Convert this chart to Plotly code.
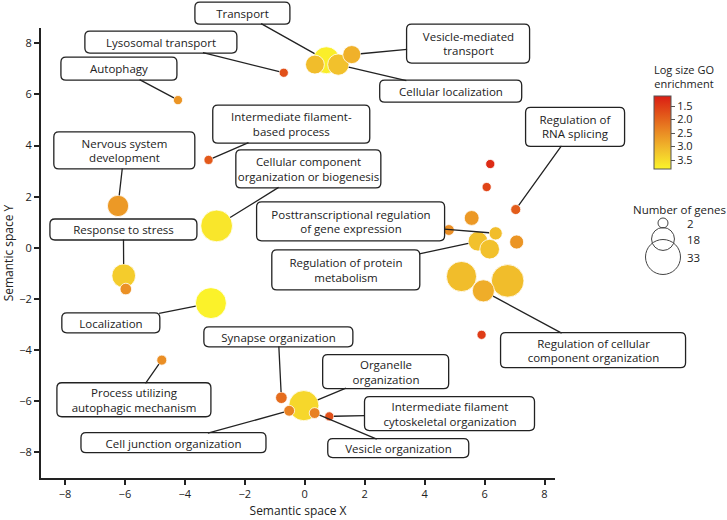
import plotly.graph_objects as go

# ---------------- data ----------------
terms = [
    "Transport", "", "Cellular localization", "Vesicle-mediated transport",
    "Lysosomal transport", "Autophagy", "Intermediate filament-based process",
    "Nervous system development", "Cellular component organization or biogenesis",
    "Response to stress", "", "Localization", "Process utilizing autophagic mechanism",
    "Synapse organization", "Cell junction organization", "Organelle organization",
    "Vesicle organization", "Intermediate filament cytoskeletal organization",
    "", "", "", "Regulation of RNA splicing", "", "",
    "Posttranscriptional regulation of gene expression",
    "Regulation of protein metabolism", "", "", "", "",
    "Regulation of cellular component organization",
]
sem_x = [0.72, 0.34, 1.12, 1.57, -0.70, -4.23, -3.21, -6.23, -2.94, -6.04, -5.97,
         -3.13, -4.77, -0.78, -0.52, -0.03, 0.33, 0.82, 5.90, 6.19, 6.07, 7.04,
         5.57, 4.81, 6.37, 5.78, 6.17, 7.07, 5.23, 6.77, 5.96]
sem_y = [7.34, 7.17, 7.17, 7.56, 6.85, 5.78, 3.44, 1.64, 0.86, -1.09, -1.61,
         -2.16, -4.39, -5.86, -6.37, -6.17, -6.46, -6.59, -3.40, 3.28, 2.38, 1.50,
         1.17, 0.70, 0.57, 0.26, -0.05, 0.23, -1.12, -1.29, -1.68]
log_size = [3.75, 3.10, 3.15, 2.95, 1.75, 2.60, 1.85, 2.65, 3.65, 3.30, 2.55,
            3.80, 2.50, 2.10, 2.35, 3.45, 2.35, 1.75, 1.50, 1.30, 1.60, 1.90,
            2.65, 2.50, 3.10, 3.15, 3.15, 2.60, 3.10, 3.10, 2.90]
n_genes = [23, 13, 16, 12, 1, 1, 1, 16, 29, 19, 4, 28, 2, 4, 3, 27, 3, 1, 1, 1,
           1, 2, 8, 3, 6, 14, 14, 7, 27, 30, 17]

# labels: term, displayed text, box centre (data units), box size (px)
label_terms = [
    "Transport", "Lysosomal transport", "Autophagy",
    "Intermediate filament-based process", "Nervous system development",
    "Cellular component organization or biogenesis",
    "Posttranscriptional regulation of gene expression", "Response to stress",
    "Regulation of protein metabolism", "Localization", "Synapse organization",
    "Organelle organization", "Process utilizing autophagic mechanism",
    "Intermediate filament cytoskeletal organization", "Cell junction organization",
    "Vesicle organization", "Vesicle-mediated transport", "Cellular localization",
    "Regulation of RNA splicing", "Regulation of cellular component organization",
]
label_text = [
    "Transport", "Lysosomal transport", "Autophagy",
    "Intermediate filament-<br>based process", "Nervous system<br>development",
    "Cellular component<br>organization or biogenesis",
    "Posttranscriptional regulation<br>of gene expression", "Response to stress",
    "Regulation of protein<br>metabolism", "Localization", "Synapse organization",
    "Organelle<br>organization", "Process utilizing<br>autophagic mechanism",
    "Intermediate filament<br>cytoskeletal organization", "Cell junction organization",
    "Vesicle organization", "Vesicle-mediated<br>transport", "Cellular localization",
    "Regulation of<br>RNA splicing", "Regulation of cellular<br>component organization",
]
label_x = [-2.08, -4.80, -6.20, -0.45, -6.02, 0.12, 1.53, -6.05, 1.37, -6.47, -0.88,
           2.70, -5.70, 4.83, -4.38, 3.12, 5.45, 4.87, 9.02, 9.62]
label_y = [9.18, 8.05, 7.01, 4.84, 3.81, 3.09, 1.04, 0.72, -0.86, -2.93, -3.48,
           -4.84, -5.94, -6.48, -7.62, -7.83, 7.99, 6.13, 4.73, -4.00]
label_w = [95, 152, 116, 157, 141, 145, 188, 147, 148, 98, 149, 126, 154, 170, 185,
           141, 123, 142, 99, 185]
label_h = [22, 22, 23, 38, 37, 38, 39, 21, 40, 20, 20, 34, 34, 34, 20, 19, 39, 22,
           39, 35]

x_ticks = [-8, -6, -4, -2, 0, 2, 4, 6, 8]
y_ticks = [-8, -6, -4, -2, 0, 2, 4, 6, 8]
cbar_ticks = [1.5, 2.0, 2.5, 3.0, 3.5]
size_legend = [2, 18, 33]

# ---------------- style ----------------
FONT = "Open Sans"
TXT = "#222222"
CMIN, CMAX = 1.13, 3.83
X_RANGE = [-8.8, 8.35]
Y_RANGE = [-9.0, 8.6]


def diam(n):
    return 8.4 + 0.806 * n


def to_paper_x(v):
    return (v - X_RANGE[0]) / (X_RANGE[1] - X_RANGE[0])


def to_paper_y(v):
    return (v - Y_RANGE[0]) / (Y_RANGE[1] - Y_RANGE[0])


colorscale = [[0.0, "#fbf42a"], [0.25, "#f2c12c"], [0.5, "#ea8c24"],
              [0.75, "#e25519"], [1.0, "#db1d14"]]

order = sorted(range(len(terms)), key=lambda i: -n_genes[i])

fig = go.Figure()
fig.add_trace(go.Scatter(
    x=[sem_x[i] for i in order], y=[sem_y[i] for i in order], mode="markers",
    text=[terms[i] for i in order],
    marker=dict(
        size=[diam(n_genes[i]) for i in order], sizemode="diameter",
        color=[-log_size[i] for i in order], colorscale=colorscale,
        cmin=-CMAX, cmax=-CMIN, opacity=1,
        line=dict(color="white", width=0.8),
        colorbar=dict(
            x=(654 - 41) / 514, xanchor="left", xpad=0, ypad=0,
            y=(478 - 132.5) / 450, yanchor="middle",
            thickness=17, len=73, lenmode="pixels",
            outlinewidth=1, outlinecolor="#555555",
            tickvals=[-t for t in cbar_ticks],
            ticktext=[f"{t:.1f}" for t in cbar_ticks],
            ticks="outside", ticklen=4, tickwidth=1, tickcolor="#555555",
            tickfont=dict(family=FONT, size=11, color=TXT),
        ),
    ),
    showlegend=False, hoverinfo="text",
))

shapes = []
annotations = []
for t, txt, bx, by, w, h in zip(label_terms, label_text, label_x, label_y,
                                label_w, label_h):
    i = terms.index(t)
    r = 5
    hw, hh = w / 2, h / 2
    path = (f"M {-hw + r},{-hh} L {hw - r},{-hh} Q {hw},{-hh} {hw},{-hh + r} "
            f"L {hw},{hh - r} Q {hw},{hh} {hw - r},{hh} L {-hw + r},{hh} "
            f"Q {-hw},{hh} {-hw},{hh - r} L {-hw},{-hh + r} Q {-hw},{-hh} {-hw + r},{-hh} Z")
    shapes.append(dict(type="path", xref="paper", yref="paper", xsizemode="pixel",
                       ysizemode="pixel", xanchor=to_paper_x(bx),
                       yanchor=to_paper_y(by), path=path,
                       fillcolor="white", line=dict(color="#222222", width=1.3),
                       layer="above"))
    annotations.append(dict(
        x=sem_x[i], y=sem_y[i], xref="x", yref="y",
        ax=bx, ay=by, axref="x", ayref="y",
        text=txt, showarrow=True, arrowhead=0, arrowwidth=1.3,
        arrowcolor="#222222", standoff=diam(n_genes[i]) / 2,
        width=w - 2, height=h - 2, borderpad=0, borderwidth=1,
        bordercolor="rgba(0,0,0,0)", bgcolor="rgba(0,0,0,0)",
        align="center", valign="middle",
        font=dict(family=FONT, size=11.5, color=TXT),
    ))

# colourbar title
annotations.append(dict(x=(684 - 41) / 514, y=(478 - 76) / 450, xref="paper",
                        yref="paper", text="Log size GO<br>enrichment",
                        showarrow=False, xanchor="center", yanchor="middle",
                        font=dict(family=FONT, size=11, color=TXT)))
# size legend
annotations.append(dict(x=(679 - 41) / 514, y=(478 - 209) / 450, xref="paper",
                        yref="paper", text="Number of genes", showarrow=False,
                        xanchor="center", yanchor="middle",
                        font=dict(family=FONT, size=11.5, color=TXT)))
leg_cy = [223, 239, 257]
for n, cy in zip(size_legend, leg_cy):
    d = diam(n)
    shapes.append(dict(type="circle", xref="paper", yref="paper",
                       xsizemode="pixel", ysizemode="pixel",
                       xanchor=(663 - 41) / 514, yanchor=(478 - cy) / 450,
                       x0=-d / 2, x1=d / 2, y0=-d / 2, y1=d / 2,
                       line=dict(color="#444444", width=1), fillcolor="rgba(0,0,0,0)"))
    annotations.append(dict(x=(685 - 41) / 514, y=(478 - cy) / 450, xref="paper",
                            yref="paper", text=str(n), showarrow=False,
                            xanchor="left", yanchor="middle",
                            font=dict(family=FONT, size=11.5, color=TXT)))

axis_common = dict(showgrid=False, zeroline=False, showline=True, linecolor="#222222",
                   linewidth=2, ticks="outside", ticklen=5, tickwidth=2,
                   tickcolor="#222222", tickfont=dict(family=FONT, size=11, color=TXT),
                   automargin=False)

fig.update_layout(
    width=727, height=520,
    margin=dict(l=41, r=172, t=28, b=42),
    paper_bgcolor="white", plot_bgcolor="white",
    font=dict(family=FONT, color=TXT),
    xaxis=dict(range=X_RANGE, tickvals=x_ticks,
               title=dict(text="Semantic space X", standoff=6,
                          font=dict(family=FONT, size=12, color=TXT)),
               **axis_common),
    yaxis=dict(range=Y_RANGE, tickvals=y_ticks,
               title=dict(text="Semantic space Y", standoff=4,
                          font=dict(family=FONT, size=12, color=TXT)),
               **axis_common),
    shapes=shapes, annotations=annotations,
)

fig.write_html(
    "out.html",
    config={"displayModeBar": False},
    post_script="document.body.style.margin='0';document.body.style.padding='0';"
                "document.documentElement.style.overflow='hidden';",
)
